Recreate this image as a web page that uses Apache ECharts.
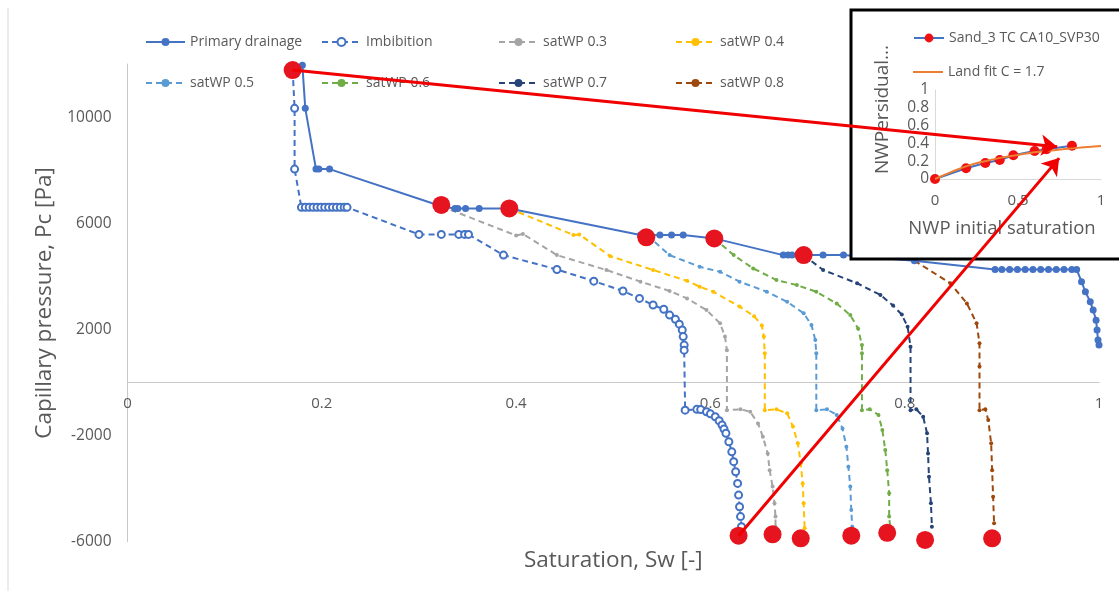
<!DOCTYPE html>
<html>
<head>
<meta charset="utf-8">
<script src="https://cdn.jsdelivr.net/npm/echarts@6/dist/echarts.min.js"></script>
<style>
html,body{margin:0;padding:0;background:#fff;}
#chart{width:1119px;height:591px;}
</style>
</head>
<body>
<div id="chart"></div>
<script>
// ---------- data (Sw, Pc[Pa]) ----------
const primaryDrainage = [[0.180,11950],[0.183,10330],[0.194,8040],[0.197,8040],[0.208,8040],
  [0.323,6640],[0.337,6560],[0.340,6560],[0.348,6560],[0.362,6560],[0.393,6560],
  [0.528,5560],[0.535,5540],[0.548,5560],[0.560,5560],[0.572,5560],[0.604,5430],
  [0.675,4800],[0.680,4800],[0.684,4800],[0.696,4800],[0.716,4800],[0.737,4800],[0.810,4590],
  [0.893,4260],[0.900,4260],[0.908,4260],[0.916,4260],[0.924,4260],[0.932,4260],[0.940,4260],
  [0.948,4260],[0.956,4260],[0.964,4260],[0.972,4260],[0.977,4260],
  [0.982,3800],[0.986,3420],[0.991,3040],[0.994,2730],[0.997,2350],[0.998,1980],[0.999,1600],[1.000,1410]];
const imbibition = [[0.170,11770],[0.172,10330],[0.172,8040],[0.179,6600],[0.183,6600],[0.187,6600],
  [0.191,6600],[0.195,6600],[0.199,6600],[0.203,6600],[0.207,6600],[0.211,6600],[0.215,6600],
  [0.219,6600],[0.223,6600],[0.226,6600],
  [0.300,5580],[0.323,5580],[0.341,5580],[0.347,5580],[0.351,5580],
  [0.387,4800],[0.442,4260],[0.480,3820],[0.510,3450],[0.527,3170],[0.541,2920],[0.552,2760],
  [0.558,2540],[0.564,2380],[0.568,2200],[0.571,1980],[0.572,1730],[0.573,1410],[0.573,1220],
  [0.574,-1040],[0.586,-1010],[0.590,-1020],[0.596,-1100],[0.600,-1180],[0.605,-1290],[0.609,-1440],
  [0.612,-1600],[0.614,-1750],[0.616,-1910],[0.619,-2230],[0.622,-2610],[0.624,-2980],[0.626,-3360],
  [0.628,-3800],[0.629,-4240],[0.630,-4680],[0.631,-5050],[0.632,-5430]];
const satWP03 = [[0.323,6640],[0.400,5540],[0.407,5600],[0.442,4800],[0.493,4240],[0.528,3800],
  [0.558,3450],[0.576,3170],[0.596,2730],[0.610,2230],[0.615,1730],[0.617,1220],[0.617,-1040],
  [0.631,-1010],[0.641,-1100],[0.649,-1540],[0.654,-2040],[0.659,-2670],[0.661,-3300],[0.664,-3920],
  [0.666,-4550],[0.667,-5050],[0.667,-5430]];
const satWP04 = [[0.393,6560],[0.459,5560],[0.465,5580],[0.497,4760],[0.541,4240],[0.576,3830],
  [0.589,3610],[0.603,3420],[0.630,2860],[0.645,2500],[0.653,2150],[0.655,1730],[0.656,1100],[0.656,-1040],
  [0.668,-1010],[0.679,-1160],[0.685,-1660],[0.690,-2290],[0.693,-3040],[0.695,-3800],[0.696,-4550],[0.697,-5490]];
const satWP05 = [[0.535,5540],[0.558,4800],[0.589,4360],[0.610,4170],[0.630,3800],[0.658,3420],
  [0.679,3040],[0.696,2610],[0.704,2170],[0.708,1600],[0.709,1100],[0.709,-1040],[0.720,-1010],[0.730,-1220],
  [0.736,-1730],[0.740,-2420],[0.742,-3170],[0.744,-3920],[0.745,-4800],[0.746,-5430]];
const satWP06 = [[0.604,5430],[0.624,4800],[0.644,4300],[0.668,3860],[0.689,3670],[0.709,3420],
  [0.730,2980],[0.744,2540],[0.752,2040],[0.756,1410],[0.756,1100],[0.756,-1040],[0.764,-1010],[0.773,-1220],
  [0.777,-1790],[0.780,-2540],[0.782,-3300],[0.784,-4170],[0.784,-5050],[0.785,-5430]];
const satWP07 = [[0.696,4800],[0.716,4240],[0.751,3740],[0.775,3300],[0.788,2900],[0.797,2560],[0.803,2100],
  [0.806,1350],[0.806,-1040],[0.812,-1010],[0.819,-1290],[0.823,-1910],[0.824,-2670],[0.825,-3550],
  [0.827,-4550],[0.828,-5430]];
const satWP08 = [[0.810,4590],[0.847,3740],[0.864,2980],[0.874,2230],[0.877,1480],[0.877,600],
  [0.877,-1040],[0.883,-1010],[0.886,-1410],[0.889,-2290],[0.890,-3300],[0.891,-4300],[0.892,-5300]];
// highlighted turning / end points
const redDots = [[0.170,11770],[0.323,6690],[0.393,6560],[0.534,5470],[0.604,5430],[0.696,4800],
  [0.629,-5770],[0.664,-5720],[0.693,-5870],[0.745,-5770],[0.782,-5660],[0.821,-5930],[0.890,-5870]];
// arrows (start, end) in main chart data coordinates
const arrows = [[[0.170,11770],[0.957,8880]],[[0.629,-5770],[0.959,8455]]];
// inset: NWP initial saturation vs residual
const sandPoints = [[0,0],[0.187,0.12],[0.303,0.18],[0.39,0.213],[0.472,0.267],[0.6,0.314],[0.672,0.335],[0.825,0.374]];
const landFit = [[0,0],[0.1,0.08],[0.2,0.15],[0.3,0.2],[0.4,0.24],[0.5,0.27],[0.6,0.3],[0.7,0.32],[0.8,0.34],[0.9,0.356],[1,0.372]];
const yTickLabels = [-6000,-2000,2000,6000,10000];
const xTickLabels = [0,0.2,0.4,0.6,0.8,1];
const seriesNames = ['Primary drainage','Imbibition','satWP 0.3','satWP 0.4','satWP 0.5','satWP 0.6','satWP 0.7','satWP 0.8'];
const insetNames = ['Sand_3 TC CA10_SVP30','Land fit C = 1.7'];

// ---------- chart ----------
const FONT = 'Open Sans';
const TXT = '#595959';
const AX = '#C9C9C9';
const chart = echarts.init(document.getElementById('chart'), null, {renderer:'canvas'});

function wp(name, data, color){
  return {name, type:'line', data, xAxisIndex:0, yAxisIndex:0, symbol:'circle', symbolSize:4,
    lineStyle:{color, width:2, type:[6,4]}, itemStyle:{color}, z:3};
}
const legPos = [[145,35],[321,35],[498,35],[675,35],[145,76],[321,76],[498,76],[675,76]];
const legends = seriesNames.map((n,i)=>({data:[n], left:legPos[i][0], top:legPos[i][1], padding:0, itemWidth:39, itemHeight:10, itemGap:5,
  textStyle:{color:TXT, fontFamily:FONT, fontSize:14}, selectedMode:false}));
legends.push({data:[insetNames[0]], left:913, top:31, padding:0, itemWidth:30, itemHeight:11,
  textStyle:{color:TXT, fontFamily:FONT, fontSize:14}, selectedMode:false, z:14});
legends.push({data:[{name:insetNames[1], icon:'rect'}], left:913, top:65, padding:0, itemWidth:30, itemHeight:2,
  textStyle:{color:TXT, fontFamily:FONT, fontSize:14}, selectedMode:false, z:14});

const option = {
  backgroundColor:'#fff',
  animation:false,
  textStyle:{fontFamily:FONT},
  legend: legends,
  grid:[{left:127.5, right:20, top:64, bottom:49.2, containLabel:false, outerBoundsMode:'none'},
        {left:935, right:18, top:90, bottom:412, containLabel:false, outerBoundsMode:'none'}],
  xAxis:[{type:'value', gridIndex:0, min:0, max:1, interval:0.2, offset:-159.3,
      axisLine:{onZero:false, lineStyle:{color:AX, width:1}}, axisTick:{show:false}, splitLine:{show:false},
      axisLabel:{color:TXT, fontSize:15, fontFamily:FONT, margin:14, formatter:v=>xTickLabels.includes(+v.toFixed(2))?String(+v.toFixed(2)):''},
      name:'Saturation, Sw [-]', nameLocation:'middle', nameGap:167, nameTextStyle:{color:TXT, fontSize:22.5, fontFamily:FONT}},
    {type:'value', gridIndex:1, min:0, max:1, interval:0.5, z:12,
      axisLine:{lineStyle:{color:'#D9D9D9'}}, axisTick:{show:false}, splitLine:{show:false},
      axisLabel:{color:TXT, fontSize:15, fontFamily:FONT, margin:14},
      name:'NWP initial saturation', nameLocation:'middle', nameGap:40,
      nameTextStyle:{color:TXT, fontSize:18.5, fontFamily:FONT, padding:[0,32,0,0]}}],
  yAxis:[{type:'value', gridIndex:0, min:-6000, max:12000, interval:2000,
      axisLine:{show:true, onZero:false, lineStyle:{color:AX, width:1}}, axisTick:{show:false}, splitLine:{show:false},
      axisLabel:{color:TXT, fontSize:15.5, fontFamily:FONT, margin:16, formatter:v=>yTickLabels.includes(v)?String(v):''},
      name:'Capillary pressure, Pc [Pa]', nameLocation:'middle', nameGap:68, nameTextStyle:{color:TXT, fontSize:22.5, fontFamily:FONT}},
    {type:'value', gridIndex:1, min:0, max:1, interval:0.2, z:12,
      axisLine:{show:true, lineStyle:{color:'#D9D9D9'}}, axisTick:{show:false}, splitLine:{show:false},
      axisLabel:{color:TXT, fontSize:15.5, fontFamily:FONT, margin:6},
      name:'NWPersidual...', nameLocation:'middle', nameGap:43,
      nameTextStyle:{color:TXT, fontSize:19, fontFamily:FONT, padding:[0,0,0,50]}}],
  graphic:[
    {type:'line', shape:{x1:8, y1:8, x2:8, y2:591}, style:{stroke:'#D9D9D9', lineWidth:1}, z:1},
    {type:'rect', shape:{x:851, y:10, width:275, height:249}, style:{fill:'#fff', stroke:'#000', lineWidth:3}, z:10}
  ],
  series:[
    {name:seriesNames[0], type:'line', data:primaryDrainage, xAxisIndex:0, yAxisIndex:0, symbol:'circle', symbolSize:7,
      lineStyle:{color:'#4472C4', width:2}, itemStyle:{color:'#4472C4'}, z:4},
    {name:seriesNames[1], type:'line', data:imbibition, xAxisIndex:0, yAxisIndex:0, symbol:'emptyCircle', symbolSize:7,
      lineStyle:{color:'#4472C4', width:2, type:[6,4]}, itemStyle:{color:'#4472C4', borderWidth:1.3}, z:4},
    wp(seriesNames[2], satWP03, '#A5A5A5'),
    wp(seriesNames[3], satWP04, '#FFC000'),
    wp(seriesNames[4], satWP05, '#5B9BD5'),
    wp(seriesNames[5], satWP06, '#70AD47'),
    wp(seriesNames[6], satWP07, '#264478'),
    wp(seriesNames[7], satWP08, '#9E480E'),
    {name:'turning points', type:'scatter', data:redDots, xAxisIndex:0, yAxisIndex:0, symbol:'circle', symbolSize:18,
      itemStyle:{color:'#E5141E', opacity:1}, z:15},
    {name:'arrows', type:'lines', coordinateSystem:'cartesian2d', xAxisIndex:0, yAxisIndex:0,
      data:arrows.map(a=>({coords:a})), symbol:['none','arrow'], symbolSize:[0,16],
      lineStyle:{color:'#F00000', width:3, opacity:1, curveness:0}, z:20, clip:false},
    {name:insetNames[0], type:'line', data:sandPoints, xAxisIndex:1, yAxisIndex:1, symbol:'circle', symbolSize:10,
      lineStyle:{color:'#4472C4', width:2}, itemStyle:{color:'#F01010'}, z:13},
    {name:insetNames[1], type:'line', data:landFit, xAxisIndex:1, yAxisIndex:1, symbol:'none', smooth:true,
      lineStyle:{color:'#ED7D31', width:2}, itemStyle:{color:'#ED7D31'}, z:14}
  ]
};
chart.setOption(option);
</script>
</body>
</html>
